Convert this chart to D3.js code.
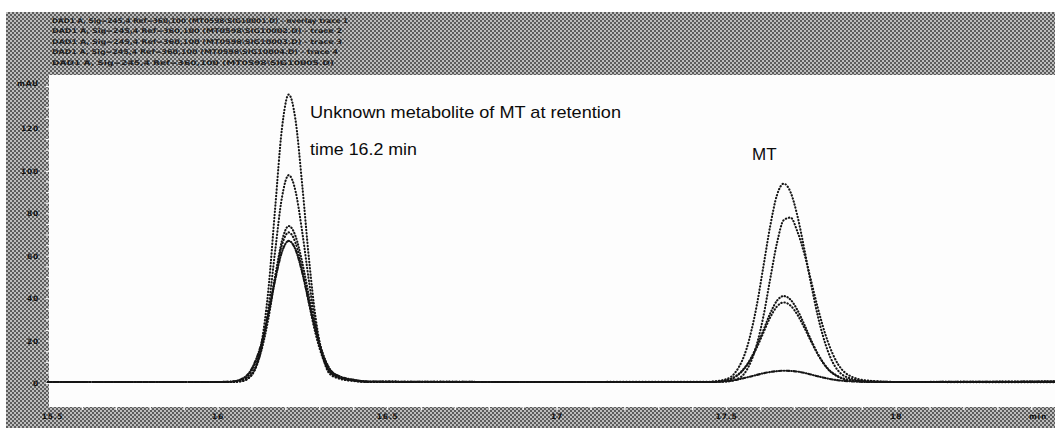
<!DOCTYPE html>
<html>
<head>
<meta charset="utf-8">
<script src="https://cdn.jsdelivr.net/npm/d3@7"></script>
<style>
  body { margin: 0; background: #fff; }
  svg { display: block; }
</style>
</head>
<body>
<div id="chart"></div>
<script>
// overlay header lines (scan is barely legible, approximated)
const headerLines = [
    "DAD1 A, Sig=245,4 Ref=360,100 (MT0598\\SIG10001.D) - overlay trace 1",
    "DAD1 A, Sig=245,4 Ref=360,100 (MT0598\\SIG10002.D) - trace 2",
    "DAD1 A, Sig=245,4 Ref=360,100 (MT0598\\SIG10003.D) - trace 3",
    "DAD1 A, Sig=245,4 Ref=360,100 (MT0598\\SIG10004.D) - trace 4",
    "DAD1 A, Sig=245,4 Ref=360,100 (MT0598\\SIG10005.D)",
]

const xTicks = [15.5, 16, 16.5, 17, 17.5, 18]
const yTicks = [0, 20, 40, 60, 80, 100, 120]

// retention time (min), shared by all traces
const times = [15.50, 16.00, 16.04, 16.07, 16.10, 16.13, 16.15, 16.17, 16.19, 16.21,
    16.23, 16.25, 16.27, 16.29, 16.31, 16.33, 16.36, 16.40, 16.45, 16.90,
    17.45, 17.50, 17.53, 17.56, 17.59, 17.61, 17.63, 17.65, 17.67, 17.69,
    17.71, 17.73, 17.75, 17.77, 17.80, 17.83, 17.87, 17.92, 18.00, 18.47]

// absorbance (mAU)
const trace1 = [0.5, 0.5, 0.5, 0.8, 3.6, 19, 44, 82.5, 120, 136,
    124, 93, 58, 30, 12.8, 4.5, 2.0, 1.0, 0.5, 0.5,
    0.6, 1.8, 5.6, 16, 36.3, 55, 74, 88.6, 94, 90,
    79, 63.7, 47.2, 31.9, 15.1, 5.9, 2.0, 0.9, 0.5, 0.4]
const trace2 = [0.5, 0.5, 0.5, 0.9, 3.7, 16.5, 35.3, 62.3, 87.5, 98,
    90.5, 71, 47.7, 27.2, 13.3, 5.5, 2.3, 1.1, 0.5, 0.5,
    0.5, 0.7, 1.7, 5.9, 17.9, 31.5, 49.1, 66, 76.8, 78,
    71.5, 61.3, 48.6, 35.7, 19.5, 8.9, 3.0, 1.1, 0.5, 0.6]
const trace3 = [0.5, 0.5, 0.5, 1.1, 4.2, 15.7, 30.4, 49.9, 67, 74,
    69.3, 56.8, 40.8, 25.7, 14.2, 6.9, 2.8, 1.3, 0.6, 0.5,
    0.5, 1.2, 3.2, 8.1, 17.2, 24.9, 32.8, 38.8, 41, 39.3,
    34.5, 27.8, 20.5, 13.9, 6.6, 3.0, 1.2, 0.7, 0.5, 0.8]
const trace4 = [0.5, 0.5, 0.6, 1.5, 5.6, 18.2, 32.5, 50.2, 65.1, 71,
    66.1, 53.4, 37.4, 22.7, 12, 5.5, 2.6, 1.4, 0.7, 0.5,
    0.5, 1.3, 3.4, 8.3, 16.5, 23.8, 30.9, 36.1, 38, 36.5,
    32.3, 26.3, 19.8, 13.7, 6.8, 3.2, 1.3, 0.7, 0.5, 0.5]
const trace5 = [0.5, 0.5, 0.7, 1.8, 6.5, 19, 32.6, 48.6, 61.8, 67,
    62.9, 51.9, 37.7, 24.1, 13.6, 6.7, 3.2, 1.6, 0.7, 0.5,
    0.5, 0.8, 1.5, 2.6, 3.8, 4.6, 5.2, 5.6, 5.8, 5.7,
    5.4, 4.8, 4.0, 3.2, 2.1, 1.3, 0.8, 0.5, 0.5, 0.7]

const traces = [trace1, trace2, trace3, trace4, trace5]
const dashes = ["0.4,2.8", "0.4,2.8", "0.4,2.6", "0.4,2.8", "3,2,0.4,2"]

var width = 1055, height = 428
var plot = {left: 49, top: 75, right: 1055, bottom: 407}

var svg = d3.select("#chart").append("svg")
    .attr("width", width)
    .attr("height", height)

// checkered grey frame like the scanned printout
var defs = svg.append("defs")
var pat = defs.append("pattern")
    .attr("id", "checker")
    .attr("width", 4).attr("height", 4)
    .attr("patternUnits", "userSpaceOnUse")
pat.append("rect").attr("width", 4).attr("height", 4).attr("fill", "#bdbdbd")
pat.append("rect").attr("width", 2).attr("height", 2).attr("fill", "#5c5c5c")
pat.append("rect").attr("x", 2).attr("y", 2).attr("width", 2).attr("height", 2).attr("fill", "#5c5c5c")

svg.append("rect")
    .attr("x", 6).attr("y", 12)
    .attr("width", width - 6).attr("height", height - 12)
    .attr("fill", "url(#checker)")

svg.append("rect")
    .attr("x", plot.left).attr("y", plot.top)
    .attr("width", plot.right - plot.left).attr("height", plot.bottom - plot.top)
    .attr("fill", "#fdfdfd")

// header text
var headerWidths = [296, 290, 290, 286, 282]
svg.append("g")
    .selectAll("text")
    .data(headerLines)
    .enter().append("text")
    .attr("x", 52)
    .attr("y", function(d, i) { return 23 + i * 10.4; })
    .attr("textLength", function(d, i) { return headerWidths[i]; })
    .attr("lengthAdjust", "spacingAndGlyphs")
    .style("font-family", "DejaVu Sans, sans-serif")
    .style("font-size", "6.5px")
    .style("font-weight", "bold")
    .style("fill", "#1e1e1e")
    .text(function(d) { return d; })

var x = d3.scaleLinear().domain([15.5, 18.47]).range([48, 1055])
var y = d3.scaleLinear().domain([-11.3, 145.2]).range([plot.bottom, plot.top])

// minor ticks (white marks on the frame)
svg.append("g")
    .attr("transform", "translate(0," + plot.bottom + ")")
    .call(d3.axisBottom(x).tickValues(d3.range(15.6, 18.45, 0.1)).tickSize(3).tickFormat(""))
    .call(g => g.select(".domain").remove())
    .call(g => g.selectAll("line").attr("stroke", "#f4f4f4").attr("stroke-width", 1.5))

svg.append("g")
    .attr("transform", "translate(" + plot.left + ",0)")
    .call(d3.axisLeft(y).tickValues(d3.range(0, 141, 5)).tickSize(3).tickFormat(""))
    .call(g => g.select(".domain").remove())
    .call(g => g.selectAll("line").attr("stroke", "#f4f4f4").attr("stroke-width", 1.2))

var labelStyle = function(sel) {
    sel.style("font-family", "DejaVu Sans, sans-serif")
        .style("font-size", "7.5px")
        .style("font-weight", "bold")
        .style("letter-spacing", "0.8px")
        .style("fill", "#111")
}

// x axis labels
var xAxis = svg.append("g")
    .attr("transform", "translate(0," + plot.bottom + ")")
    .call(d3.axisBottom(x).tickValues(xTicks).tickSize(0).tickPadding(7).tickFormat(d3.format("")))
xAxis.select(".domain").remove()
xAxis.selectAll("text")
    .call(labelStyle)
    .attr("dx", function(d) { return d == 15.5 ? 4 : 0; })

svg.append("text")
    .attr("x", 1038).attr("y", 419)
    .attr("text-anchor", "middle")
    .call(labelStyle)
    .text("min")

// y axis labels
var yAxis = svg.append("g")
    .attr("transform", "translate(" + plot.left + ",0)")
    .call(d3.axisLeft(y).tickValues(yTicks).tickSize(0).tickPadding(10))
yAxis.select(".domain").remove()
yAxis.selectAll("text").call(labelStyle)

svg.append("text")
    .attr("x", 39).attr("y", 86)
    .attr("text-anchor", "end")
    .call(labelStyle)
    .text("mAU")

// traces
var line = d3.line()
    .x(function(d, i) { return x(times[i]); })
    .y(function(d) { return y(d); })
    .curve(d3.curveMonotoneX)

svg.append("g")
    .selectAll("path")
    .data(traces)
    .enter().append("path")
    .attr("d", line)
    .attr("fill", "none")
    .attr("stroke", "#151515")
    .attr("stroke-width", 2.1)
    .attr("stroke-linecap", "round")
    .attr("stroke-dasharray", function(d, i) { return dashes[i]; })

// annotations
var notes = svg.append("g")
    .style("font-family", "Liberation Sans, Arial, sans-serif")
    .style("font-size", "17px")
    .style("fill", "#0c0c0c")

notes.append("text")
    .attr("x", 310).attr("y", 118)
    .attr("textLength", 311)
    .attr("lengthAdjust", "spacingAndGlyphs")
    .text("Unknown metabolite of MT at retention")

notes.append("text")
    .attr("x", 310).attr("y", 155)
    .attr("textLength", 107)
    .attr("lengthAdjust", "spacingAndGlyphs")
    .text("time 16.2 min")

notes.append("text")
    .attr("x", 752).attr("y", 160)
    .text("MT")
</script>
</body>
</html>
